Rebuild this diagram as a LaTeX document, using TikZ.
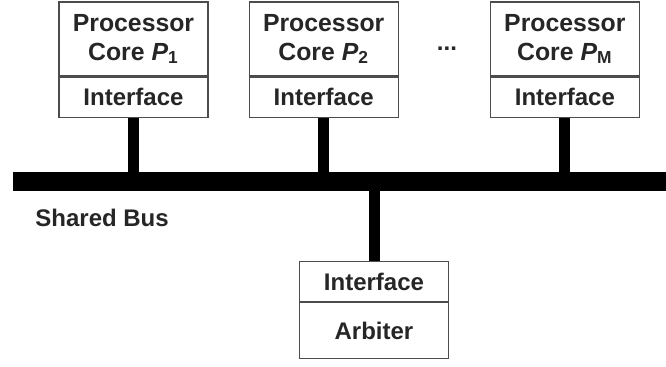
\documentclass[tikz,border=0pt]{standalone}
\usepackage{fontspec}
\setmainfont{Liberation Sans}
\usetikzlibrary{positioning}
\tikzset{node distance=20pt, % gap between two processor boxes
every node/.style={ % Sets the text of each node
font=\bfseries\fontsize{12}{14.5}\selectfont,
text=black!85},
part/.style={ % one part of a box
draw=black!70,
line width=0.6pt,
minimum width=74.5pt,
align=center,
inner sep=0pt},
core/.style={part, minimum height=37pt, font=\bfseries\fontsize{12.4}{14.5}\selectfont},
iface/.style={part, minimum height=20pt},
stem/.style={line width=5.5pt}, % link from a box to the bus
bus/.style={line width=9.5pt}}

\begin{document}
\begin{tikzpicture}[x=0.5pt,y=-0.5pt]
  \useasboundingbox (0,0) rectangle (666,367);
  \node[core]  (core1) at (133.5,39)    {Processor\\Core \textit{P}\textsubscript{1}};
  \node[iface] (if1)   [below=0pt of core1] {Interface};
  \node[core]  (core2) [right=of core1]     {Processor\\Core \textit{P}\textsubscript{2}};
  \node[iface] (if2)   [below=0pt of core2] {Interface};
  \node[core]  (coreM) [right=45.5pt of core2] {Processor\\Core \textit{P}\textsubscript{M}};
  \node[iface] (ifM)   [below=0pt of coreM] {Interface};
  \node (dots) at (447,49) {...};
  % the bus
  \coordinate (busL) at (13,181.5);
  \coordinate (busR) at (666,181.5);
  \draw[bus] (busL) -- (busR);
  \foreach \n in {1,2,M}
    \draw[stem] (if\n.south) -- (if\n.south |- busL);
  \node[anchor=west, inner sep=0pt] (busname) at (35,218) {Shared Bus};
  % arbiter
  \node[iface] (ifA) at (374,281.5) {Interface};
  \node[part, minimum height=28pt] (arb) [below=0pt of ifA] {Arbiter};
  \draw[stem] (ifA.north) -- (ifA.north |- busL);
\end{tikzpicture}
\end{document}
